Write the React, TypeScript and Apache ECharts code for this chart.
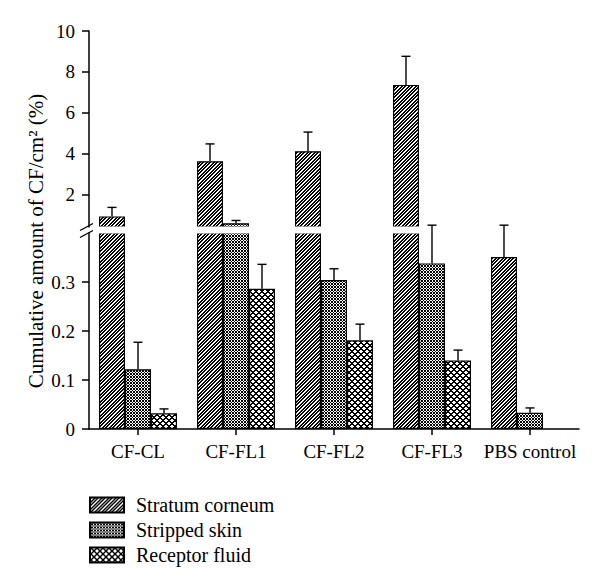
import React, { useEffect, useRef } from 'react';
import * as echarts from 'echarts';

const categories = ['CF-CL', 'CF-FL1', 'CF-FL2', 'CF-FL3', 'PBS control'];
const seriesNames = ['Stratum corneum', 'Stripped skin', 'Receptor fluid'];
const stratum = [0.92, 3.62, 4.11, 7.36, 0.351];
const stratumErr = [0.44, 0.85, 0.94, 1.4, 0.065];
const stripped = [0.122, 0.58, 0.304, 0.338, 0.033];
const strippedErr = [0.055, 0.14, 0.023, 0.078, 0.01];
const receptor: (number | null)[] = [0.032, 0.286, 0.181, 0.14, null];
const receptorErr: (number | null)[] = [0.009, 0.05, 0.033, 0.021, null];
const lowerTicks = [0, 0.1, 0.2, 0.3];
const upperTicks = [2, 4, 6, 8, 10];
const BREAK = 0.4;
const UPPER_MAX = 10;

const FONT = 'Liberation Serif';
const BAR_W = 26;

function pixelPattern(tile: number, isBlack: (x: number, y: number) => boolean) {
  const c = document.createElement('canvas');
  c.width = tile;
  c.height = tile;
  const ctx = c.getContext('2d')!;
  const img = ctx.createImageData(tile, tile);
  for (let y = 0; y < tile; y++) {
    for (let x = 0; x < tile; x++) {
      const v = isBlack(x, y) ? 0 : 255;
      const o = (y * tile + x) * 4;
      img.data[o] = v;
      img.data[o + 1] = v;
      img.data[o + 2] = v;
      img.data[o + 3] = 255;
    }
  }
  ctx.putImageData(img, 0, 0);
  return { image: c, repeat: 'repeat' };
}

const mod = (a: number, n: number) => ((a % n) + n) % n;

export default function App() {
  const ref = useRef<HTMLDivElement>(null);
  useEffect(() => {
    const chart = echarts.init(ref.current!, null, { renderer: 'svg' });
    const patterns = [
      pixelPattern(7, (x, y) => mod(2 * (x + y), 7) < 4),
      pixelPattern(3, (x, y) => mod(x + y, 3) === 0 || mod(x - y, 3) === 0),
      pixelPattern(6, (x, y) => mod(x + y, 6) < 2 || mod(x - y, 6) < 2),
    ];
    const values = [stratum, stripped, receptor];
    const errs = [stratumErr, strippedErr, receptorErr];

    const lowerErr: number[][] = [];
    const upperErr: number[][] = [];
    values.forEach((arr, k) => {
      arr.forEach((v, i) => {
        const e = errs[k][i];
        if (v == null || e == null) return;
        (v >= BREAK ? upperErr : lowerErr).push([i, v, e, k]);
      });
    });

    const renderErr = (params: any, api: any) => {
      const idx = api.value(0);
      const v = api.value(1);
      const e = api.value(2);
      const k = api.value(3);
      const base = api.coord([idx, v]);
      const top = api.coord([idx, v + e]);
      const x = base[0] + (k - 1) * BAR_W;
      const st = { stroke: '#000', lineWidth: 1.4 };
      return {
        type: 'group',
        children: [
          { type: 'line', shape: { x1: x, y1: base[1], x2: x, y2: top[1] }, style: st },
          { type: 'line', shape: { x1: x - 4.5, y1: top[1], x2: x + 4.5, y2: top[1] }, style: st },
        ],
      };
    };

    const barBase = (k: number) => ({
      name: seriesNames[k],
      type: 'bar',
      barWidth: BAR_W,
      barGap: '0%',
      itemStyle: { color: patterns[k] as any, borderColor: '#000', borderWidth: 1.2 },
      z: 2,
    });

    const series: any[] = [];
    values.forEach((arr, k) => {
      series.push({
        ...barBase(k),
        xAxisIndex: 1,
        yAxisIndex: 1,
        data: arr.map((v) => (v == null ? '-' : v)),
      });
    });
    values.forEach((arr, k) => {
      series.push({
        ...barBase(k),
        xAxisIndex: 0,
        yAxisIndex: 0,
        data: arr.map((v) => (v != null && v >= BREAK ? v : '-')),
      });
    });
    series.push({
      name: 'errLower',
      type: 'custom',
      xAxisIndex: 1,
      yAxisIndex: 1,
      clip: false,
      z: 20,
      renderItem: renderErr,
      data: lowerErr,
    });
    series.push({
      name: 'errUpper',
      type: 'custom',
      xAxisIndex: 0,
      yAxisIndex: 0,
      clip: false,
      z: 20,
      renderItem: renderErr,
      data: upperErr,
    });

    const axisLine = { show: true, lineStyle: { color: '#000', width: 1.5 } };
    const labelStyle = { color: '#000', fontFamily: FONT, fontSize: 19 };

    chart.setOption({
      animation: false,
      backgroundColor: '#fff',
      grid: [
        { left: 89, right: 21, top: 31, height: 196 },
        { left: 89, right: 21, top: 233, height: 196 },
      ],
      xAxis: [
        { type: 'category', gridIndex: 0, data: categories, show: false },
        {
          type: 'category',
          gridIndex: 1,
          data: categories,
          axisLine,
          axisTick: { show: true, alignWithLabel: true, interval: 0, length: 6, lineStyle: { color: '#000', width: 1.5 } },
          axisLabel: { ...labelStyle, fontSize: 19, margin: 13, interval: 0 },
        },
      ],
      yAxis: [
        {
          type: 'value',
          gridIndex: 0,
          min: BREAK,
          max: UPPER_MAX,
          axisLine,
          splitLine: { show: false },
          axisTick: { show: true, customValues: upperTicks, length: 7, lineStyle: { color: '#000', width: 1.5 } },
          axisLabel: { ...labelStyle, customValues: upperTicks, margin: 14 },
        },
        {
          type: 'value',
          gridIndex: 1,
          min: 0,
          max: BREAK,
          axisLine,
          splitLine: { show: false },
          axisTick: { show: true, customValues: lowerTicks, length: 7, lineStyle: { color: '#000', width: 1.5 } },
          axisLabel: { ...labelStyle, customValues: lowerTicks, margin: 14 },
        },
      ],
      legend: {
        data: seriesNames,
        orient: 'vertical',
        left: 89,
        top: 495,
        itemWidth: 34,
        itemHeight: 15,
        itemGap: 5,
        icon: 'rect',
        padding: 0,
        textStyle: { color: '#000', fontFamily: FONT, fontSize: 20, padding: [0, 0, 0, 7] },
      },
      graphic: [
        {
          type: 'rect',
          z: 10,
          shape: { x: 90, y: 226.5, width: 490, height: 7 },
          style: { fill: '#fff' },
        },
        {
          type: 'line',
          z: 30,
          shape: { x1: 80, y1: 230.5, x2: 93, y2: 223.5 },
          style: { stroke: '#000', lineWidth: 1.4 },
        },
        {
          type: 'line',
          z: 30,
          shape: { x1: 80, y1: 237.5, x2: 93, y2: 230.5 },
          style: { stroke: '#000', lineWidth: 1.4 },
        },
        {
          type: 'text',
          z: 30,
          x: 36,
          y: 241,
          rotation: Math.PI / 2,
          style: {
            text: 'Cumulative amount of CF/cm² (%)',
            fill: '#000',
            font: `21px "${FONT}"`,
            textAlign: 'center',
            textVerticalAlign: 'middle',
          },
        },
      ],
      series,
    });
    return () => chart.dispose();
  }, []);
  return (
    <div
      ref={ref}
      style={{ position: 'fixed', left: 0, top: 0, width: 600, height: 586, background: '#fff' }}
    />
  );
}
